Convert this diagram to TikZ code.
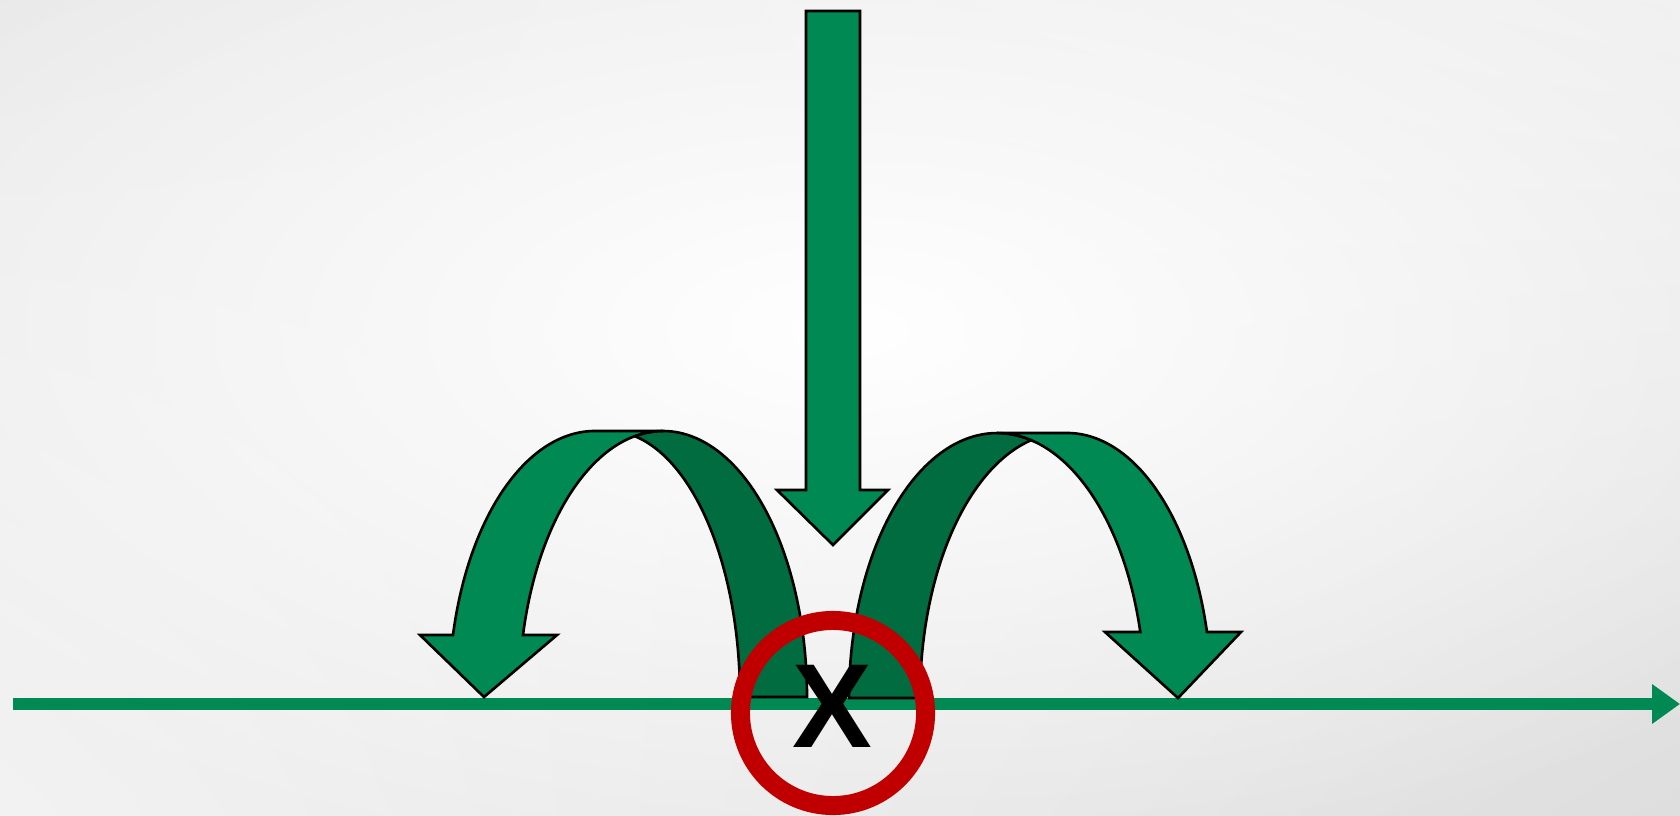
\documentclass[tikz,border=0pt]{standalone}
\usepackage{fontspec}
\setmainfont{Liberation Sans}
\newfontfamily\markfont{Liberation Sans}[BoldFont={Liberation Sans Bold}]
\usetikzlibrary{arrows.meta,shadings,fadings}
\definecolor{arcgreen}{RGB}{0,137,82}
\definecolor{arcshade}{RGB}{0,108,64}
\definecolor{ringred}{RGB}{192,0,0}
\tikzfading[name=glow,inner color=transparent!0,outer color=transparent!100]

\begin{document}
\begin{tikzpicture}[x=0.01cm,y=-0.01cm,>=Stealth,
 front/.style={fill=arcgreen,draw=black,line width=0.75pt},
 back/.style={fill=arcshade,draw=black,line width=0.75pt},
 ring/.style={circle,draw=ringred,line width=0.19cm,minimum size=1.85cm,inner sep=0pt},
 mark X/.style={inner sep=0pt,font=\markfont\bfseries\fontsize{34pt}{34pt}\selectfont}]
\useasboundingbox (0,0) rectangle (1680,816);
\shade[upper left=black!9,upper right=black!6,lower left=black!5,lower right=black!13]
 (0,0) rectangle (1680,816);
\fill[white,path fading=glow] (850,330) ellipse[x radius=1200,y radius=560];
\coordinate (axstart) at (13,704);
\coordinate (axend) at (1680,704);
\draw[arcgreen,line width=0.12cm,-{Triangle[length=2.8mm,width=3.8mm]}]
 (axstart) -- (axend);
\path[front] (806,11) -- (860,11) -- (860,490) -- (888,490) -- (833,545)
 -- (777,490) -- (806,490) -- cycle;
\path[back] (634.72,436.18)
 arc[start angle=258.68,end angle=360,x radius=144,y radius=266] -- (740,697)
 arc[start angle=0,end angle=-78.68,x radius=131,y radius=266] -- cycle;
\path[front] (453,635)
 arc[start angle=193.48,end angle=270,x radius=146,y radius=266] -- (663,431)
 arc[start angle=270,end angle=193.48,x radius=144,y radius=266]
 -- (557,635) -- (484,697) -- (420,635) -- cycle;
\path[back] (1031.2,440.2)
 arc[start angle=-76.66,end angle=-180,x radius=148,y radius=265] -- (920,698)
 arc[start angle=180,end angle=256.66,x radius=144.5,y radius=265] -- cycle;
\path[front] (1140.3,632)
 arc[start angle=-14.42,end angle=-90,x radius=148,y radius=265] -- (1067,433)
 arc[start angle=-90,end angle=-14.42,x radius=144.5,y radius=265]
 -- (1241,632) -- (1178,698) -- (1105,632) -- cycle;
\node[ring] (ring) at (833,713) {};
\node[mark X] (cross) at (832.5,706) {X};
\end{tikzpicture}
\end{document}
